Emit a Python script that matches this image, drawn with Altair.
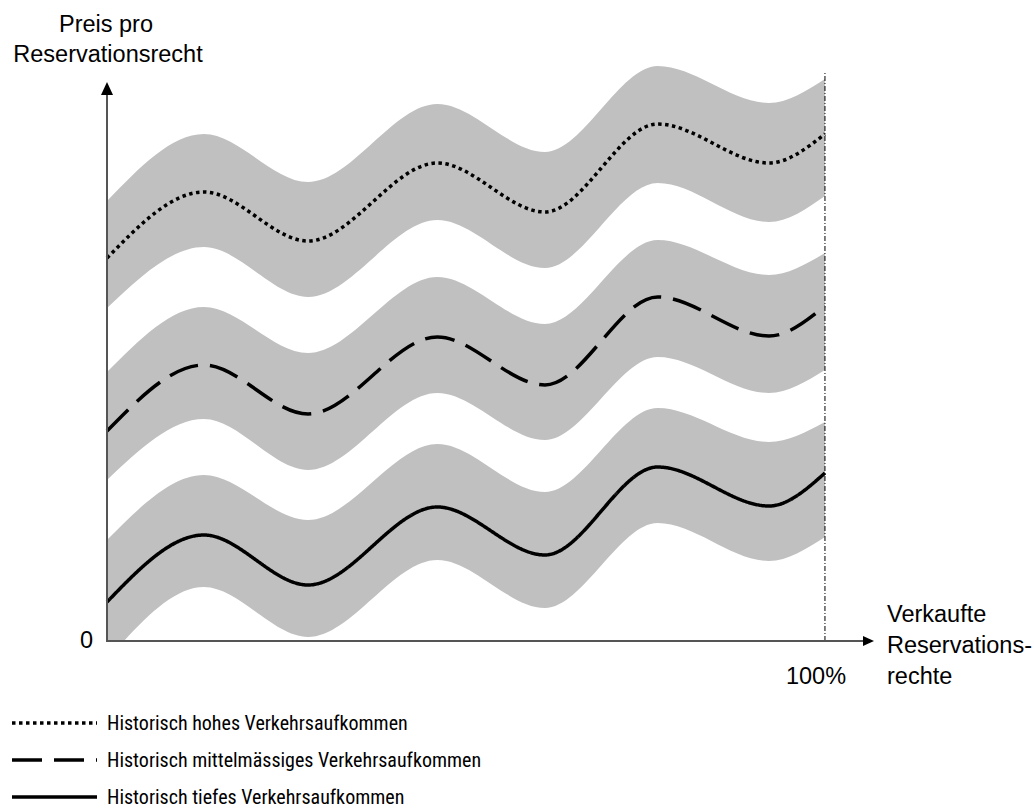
import altair as alt
import pandas as pd

# x positions in % of sold reservation rights (100% = dashed line)
x_pct = [0.0, 13.5, 28.0, 46.0, 61.0, 76.7, 92.2, 100.0]

# price curves (arbitrary price units, 0 = x-axis)
low_line = [39, 106, 56, 134, 86, 174, 135, 168]
mid_line = [210, 276, 227, 304, 256, 344, 305, 335]
high_line = [383, 449, 400, 478, 429, 517, 478, 507]

# grey bands (upper / lower edge)
low_top = [101, 166, 121, 197, 149, 233, 199, 219]
low_bot = [-19, 54, 4, 81, 33, 118, 80, 104]
mid_top = [269, 334, 288, 364, 317, 401, 366, 388]
mid_bot = [161, 222, 171, 248, 201, 284, 248, 271]
high_top = [440, 507, 459, 537, 489, 575, 538, 562]
high_bot = [333, 394, 344, 421, 373, 458, 419, 445]

legend_labels = [
    "Historisch hohes Verkehrsaufkommen",
    "Historisch mittelmässiges Verkehrsaufkommen",
    "Historisch tiefes Verkehrsaufkommen",
]
y_title = ["Preis pro", "Reservationsrecht"]
x_title = ["Verkaufte", "Reservations-", "rechte"]
x_tick = "100%"
origin_label = "0"

FONT = "Liberation Sans, Arial, sans-serif"
NARROW = "Roboto Condensed, Liberation Sans, sans-serif"

xs = alt.Scale(domain=[0, 106.69], nice=False, zero=False)
ys = alt.Scale(domain=[0, 580], nice=False, zero=False)


def frame(line, top, bot):
    return pd.DataFrame({"x": x_pct, "y": line, "top": top, "bot": bot})


dfs = [frame(high_line, high_top, high_bot),
       frame(mid_line, mid_top, mid_bot),
       frame(low_line, low_top, low_bot)]
dashes = [[3.5, 3.5], [30, 12], [1, 0]]

layers = []
for df in dfs:
    layers.append(
        alt.Chart(df).mark_area(color="#c0c0c0", interpolate="monotone", clip=True, opacity=1).encode(
            x=alt.X("x:Q", scale=xs, axis=None),
            y=alt.Y("top:Q", scale=ys, axis=None),
            y2="bot:Q",
        )
    )
for df, d in zip(dfs, dashes):
    layers.append(
        alt.Chart(df).mark_line(color="black", strokeWidth=3.5, strokeDash=d, interpolate="monotone").encode(
            x=alt.X("x:Q", scale=xs, axis=None),
            y=alt.Y("y:Q", scale=ys, axis=None),
        )
    )

one = pd.DataFrame({"a": [0]})

# 100% dash-dot reference line
layers.append(
    alt.Chart(one).mark_rule(color="black", strokeWidth=1, strokeDash=[5, 2, 1, 2]).encode(
        x=alt.datum(100, scale=xs), y=alt.value(580), y2=alt.value(11)
    )
)
# axes
layers.append(alt.Chart(one).mark_rule(color="#555555", strokeWidth=2).encode(
    x=alt.value(0), y=alt.value(581), y2=alt.value(28)))
layers.append(alt.Chart(one).mark_rule(color="#555555", strokeWidth=2).encode(
    x=alt.value(-1), x2=alt.value(762), y=alt.value(580)))
# arrow heads
layers.append(alt.Chart(one).mark_point(shape="M0,-1L0.923,1L-0.923,1Z", filled=True, size=169,
                                        color="black", opacity=1).encode(
    x=alt.value(0), y=alt.value(27.5)))
layers.append(alt.Chart(one).mark_point(shape="M1,0L-1,-0.909L-1,0.909Z", filled=True, size=121,
                                        color="black", opacity=1).encode(
    x=alt.value(761.5), y=alt.value(580)))


def txt(s, x, y, align="left", font=FONT, size=23.5):
    return alt.Chart(one).mark_text(text=s, align=align, baseline="alphabetic", font=font,
                                    fontSize=size, color="black").encode(
        x=alt.value(x), y=alt.value(y))


layers.append(txt(y_title[0], -1, -29, "center"))
layers.append(txt(y_title[1], 1, 1, "center"))
layers.append(txt(origin_label, -14, 587, "right"))
layers.append(txt(x_tick, 709, 623, "center"))
layers.append(txt(x_title[0], 780, 561))
layers.append(txt(x_title[1], 780, 592))
layers.append(txt(x_title[2], 780, 623))

# legend
row_y = [662, 699, 736]
for lab, d, ry in zip(legend_labels, dashes, row_y):
    layers.append(alt.Chart(one).mark_rule(color="black", strokeWidth=3.5, strokeDash=d).encode(
        x=alt.value(-95), x2=alt.value(-10), y=alt.value(ry)))
    layers.append(txt(lab, 0, ry + 7, "left", NARROW, 20))

chart = alt.layer(*layers).properties(
    width=766, height=580,
    autosize=alt.AutoSizeParams(type="none"),
    padding={"left": 107, "top": 61, "right": 161, "bottom": 169},
    background="white",
).configure_view(stroke=None)

chart.save("out.html", embed_options={"renderer": "svg", "actions": False})
